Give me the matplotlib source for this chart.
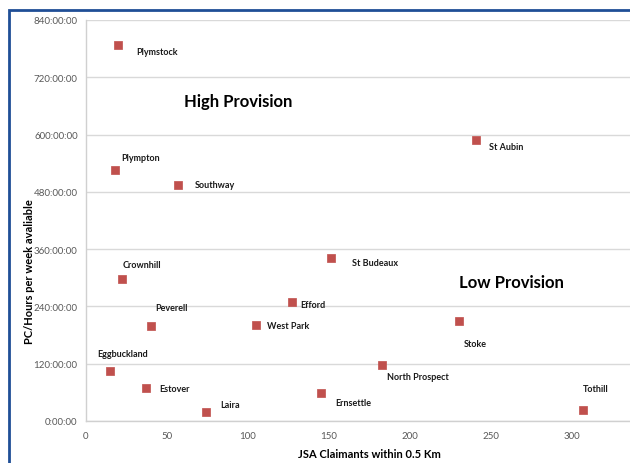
import matplotlib
matplotlib.use("Agg")
import matplotlib.pyplot as plt
from matplotlib.ticker import FuncFormatter, MultipleLocator, FixedLocator
from matplotlib.patches import Rectangle

plt.rcParams['font.family'] = ['Lato', 'DejaVu Sans']

# ward name, JSA claimants within 0.5 km, PC hours per week
wards = ["Plymstock", "Plympton", "Southway", "St Aubin", "Crownhill",
         "Peverell", "Eggbuckland", "Estover", "Laira", "Efford",
         "West Park", "St Budeaux", "Stoke", "North Prospect",
         "Ernsettle", "Tothill"]
claimants = [20, 18, 57, 241, 22, 40, 15, 37, 74, 127, 105, 151, 230, 183, 145, 307]
pc_hours = [788, 525, 495, 588, 297, 198, 105, 69, 19, 249, 201, 342, 210, 118, 59, 22]
x_ticks = [0, 50, 100, 150, 200, 250, 300]

# label offsets in pixels from each marker
label_offsets = [(18, -7), (6, 13), (16, 0), (13, -6), (1, 15), (4, 19),
                 (-13, 17), (13, 0), (14, 7), (9, -2), (11, 0), (21, -5),
                 (5, -23), (5, -12), (14, -10), (0, 22)]

W, H = 630, 464
fig = plt.figure(figsize=(W / 100, H / 100), dpi=100)

# axes: x=0 at px 86, y=0 at px 422, 1.62 px per claimant, 840 h spans 401 px
ax = fig.add_axes([86 / W, (H - 422) / H, 350 * 1.62 / W, 401 / H])

ax.scatter(claimants, pc_hours, marker='s', s=34, color='#c0504d',
           edgecolors='#c0504d', linewidths=0.5, zorder=3)

for name, x, y, (dx, dy) in zip(wards, claimants, pc_hours, label_offsets):
    ax.annotate(name, (x, y), xytext=(dx, dy), textcoords='offset pixels',
                ha='left', va='center', fontsize=6.5, fontweight='bold',
                color='#1a1a1a')

ax.text(238 / W, 1 - 102 / H, "High Provision", transform=fig.transFigure,
        ha='center', va='center', fontsize=12, fontweight='bold')
ax.text(511 / W, 1 - 283 / H, "Low Provision", transform=fig.transFigure,
        ha='center', va='center', fontsize=12, fontweight='bold')

ax.set_xlim(0, 350)
ax.set_ylim(0, 840)
ax.xaxis.set_major_locator(FixedLocator(x_ticks))
ax.yaxis.set_major_locator(MultipleLocator(120))
ax.yaxis.set_major_formatter(FuncFormatter(lambda v, p: f"{int(v)}:00:00"))
ax.tick_params(length=0, labelsize=7, labelcolor='#595959', pad=6)
ax.tick_params(axis='x', pad=7)

ax.grid(axis='y', color='#d9d9d9', linewidth=1)
ax.set_axisbelow(True)
for side in ('top', 'right'):
    ax.spines[side].set_visible(False)
for side in ('left', 'bottom'):
    ax.spines[side].set_color('#d0d0d0')
    ax.spines[side].set_linewidth(1)

ax.set_xlabel("JSA Claimants within 0.5 Km", fontsize=8, fontweight='bold',
              labelpad=6)
ax.set_ylabel("PC/Hours per week avaliable", fontsize=8, fontweight='bold')
ax.yaxis.set_label_coords(-0.09, 0.374)

# blue chart border, cropped on the right and bottom
fig.patches.append(Rectangle((8.5 / W, -0.1), 1.2, 1 - 10.5 / H + 0.1,
                             transform=fig.transFigure, fill=False,
                             edgecolor='#1f4e96', linewidth=2))

fig.savefig("out.png", dpi=100)
